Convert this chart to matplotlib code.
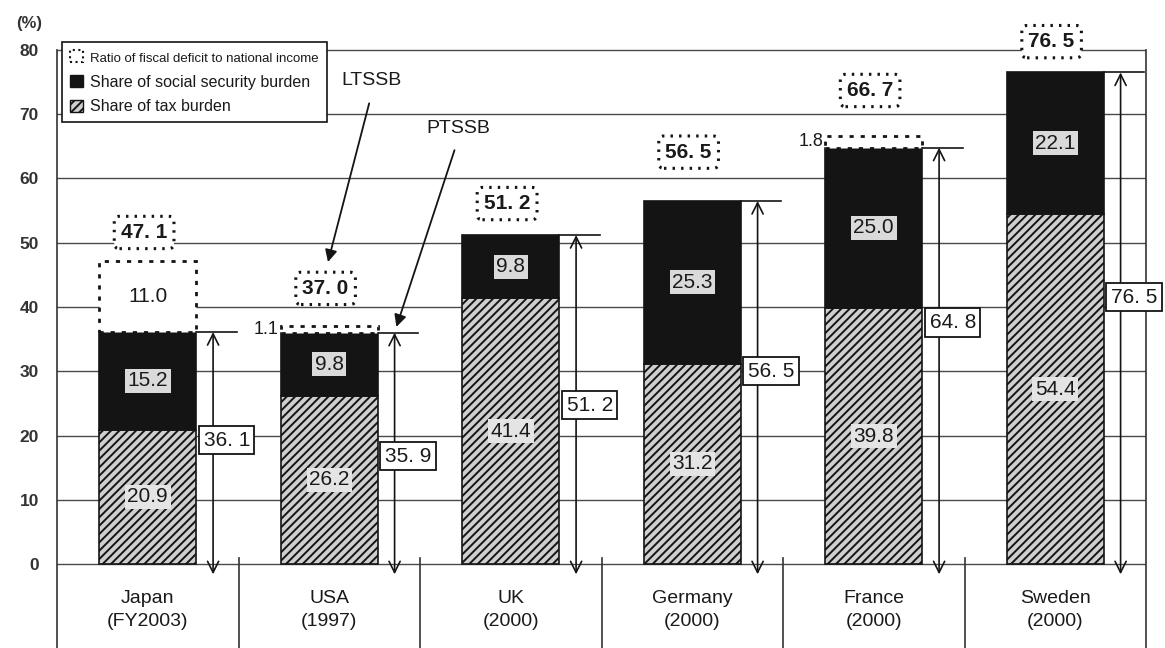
import matplotlib
matplotlib.use("Agg")
import matplotlib.pyplot as plt
from matplotlib.patches import Patch
import numpy as np

plt.rcParams['font.family'] = ['Liberation Sans', 'DejaVu Sans']
plt.rcParams['hatch.linewidth'] = 1.4

# data
countries = ["Japan\n(FY2003)", "USA\n(1997)", "UK\n(2000)",
             "Germany\n(2000)", "France\n(2000)", "Sweden\n(2000)"]
tax_share = [20.9, 26.2, 41.4, 31.2, 39.8, 54.4]
social_share = [15.2, 9.8, 9.8, 25.3, 25.0, 22.1]
deficit_ratio = [11.0, 1.1, 0.0, 0.0, 1.8, 0.0]
ptssb_labels = ["36. 1", "35. 9", "51. 2", "56. 5", "64. 8", "76. 5"]
ltssb_labels = ["47. 1", "37. 0", "51. 2", "56. 5", "66. 7", "76. 5"]

# where the boxed totals sit (y in %)
ptssb_box_y = [19.3, 16.8, 24.7, 30.0, 37.6, 41.5]
ltssb_box_y = [51.6, 42.9, 56.1, 64.1, 73.7, 81.3]

tax = np.array(tax_share)
soc = np.array(social_share)
dfc = np.array(deficit_ratio)
ptssb = tax + soc
x = np.arange(len(countries))
bw = 0.535
ink = '#141414'
txt = '#1a1a1a'

fig = plt.figure(figsize=(11.65, 6.48), dpi=100)
ax = fig.add_axes([57 / 1165, 0, 1089 / 1165, 1])
ax.set_xlim(-0.5, 5.5)
ax.set_ylim(-13.07, 87.78)
for s in ax.spines.values():
    s.set_visible(False)

ax.set_yticks(range(0, 81, 10))
ax.tick_params(axis='y', length=0, pad=13, labelsize=12.5, labelcolor='#333')
for t in ax.get_yticklabels():
    t.set_fontweight('bold')
ax.set_xticks([])
ax.grid(axis='y', color='#4a4a4a', lw=1.0)
ax.set_axisbelow(True)

# frame + table below the axis
ax.plot([-0.5, -0.5], [-13.1, 80], color='#333', lw=1.2, clip_on=False)
ax.plot([5.5, 5.5], [-13.1, 80], color='#333', lw=1.2, clip_on=False)
for k in range(1, len(countries)):
    ax.plot([k - 0.5, k - 0.5], [-13.1, 1.0], color='#333', lw=1.2)
for i, name in enumerate(countries):
    ax.text(i, -7.2, name, ha='center', va='center', fontsize=14,
            linespacing=1.45, color=txt)

# stacked bars
ax.bar(x, tax, bw, color='#cfcfcf', edgecolor=ink, hatch='////', lw=1.2, zorder=2)
ax.bar(x, soc, bw, bottom=tax, color=ink, edgecolor=ink, lw=1.2, zorder=2)
has_def = dfc > 0
ax.bar(x[has_def], dfc[has_def], bw, bottom=ptssb[has_def], color='white',
       edgecolor=ink, linestyle=(0, (1.5, 2.5)), lw=2, zorder=2)

for i in x:
    ax.text(i, tax[i] / 2, f"{tax[i]:.1f}", ha='center', va='center', fontsize=15,
            color=txt, zorder=4,
            bbox=dict(boxstyle='square,pad=0.12', fc='#e4e4e4', ec='none'))
    ax.text(i, tax[i] + soc[i] / 2, f"{soc[i]:.1f}", ha='center', va='center',
            fontsize=15, color=txt, zorder=4,
            bbox=dict(boxstyle='square,pad=0.12', fc='#dadada', ec='none'))
    if dfc[i] > 5:
        ax.text(i, ptssb[i] + dfc[i] / 2, f"{dfc[i]:.1f}", ha='center', va='center',
                fontsize=15, color=txt, zorder=4)
    elif dfc[i] > 0:
        ax.text(i - bw / 2 - 0.01, ptssb[i] + dfc[i] / 2, f"{dfc[i]:.1f}",
                ha='right', va='center', fontsize=13, color=txt, zorder=4)

    # double arrow for the present total
    ax_x = i + 0.36
    ax.annotate('', xy=(ax_x, ptssb[i]), xytext=(ax_x, -1.6),
                arrowprops=dict(arrowstyle='<->', lw=1.2, color=ink,
                                mutation_scale=20, shrinkA=0, shrinkB=0), zorder=3)
    ax.plot([i + bw / 2, i + 0.49], [ptssb[i]] * 2, color=ink, lw=1.2, zorder=3)
    ax.text(i + 0.435, ptssb_box_y[i], ptssb_labels[i], ha='center', va='center',
            fontsize=15, color=txt, zorder=5,
            bbox=dict(boxstyle='square,pad=0.22', fc='white', ec=ink, lw=1.3))

    # dotted box with the long-term total
    ax.text(i - 0.02, ltssb_box_y[i], ltssb_labels[i], ha='center', va='center',
            fontsize=15, color=txt, fontweight='bold', zorder=5,
            bbox=dict(boxstyle='round,pad=0.32,rounding_size=0.25', fc='white',
                      ec=ink, lw=2.2, ls=(0, (0.8, 2.0))))

# LTSSB / PTSSB call-outs
ax.text(1.235, 75.3, 'LTSSB', ha='center', va='center', fontsize=14, color=txt)
ax.annotate('', xy=(0.993, 47.0), xytext=(1.22, 71.7),
            arrowprops=dict(arrowstyle='-|>', color=ink, lw=1.3,
                            mutation_scale=18, shrinkA=0, shrinkB=0))
ax.text(1.71, 67.8, 'PTSSB', ha='center', va='center', fontsize=14, color=txt)
ax.annotate('', xy=(1.37, 36.9), xytext=(1.69, 64.4),
            arrowprops=dict(arrowstyle='-|>', color=ink, lw=1.3,
                            mutation_scale=18, shrinkA=0, shrinkB=0))

ax.text(-0.655, 84.2, '(%)', ha='center', va='center', fontsize=12,
        fontweight='bold', color='#333')

handles = [Patch(fc='white', ec=ink, ls=':', lw=1.5),
           Patch(fc=ink, ec=ink),
           Patch(fc='#cfcfcf', ec=ink, hatch='////')]
labels = ['Ratio of fiscal deficit to national income',
          'Share of social security burden',
          'Share of tax burden']
leg = ax.legend(handles, labels, loc='upper left',
                bbox_to_anchor=(62 / 1165, 1 - 42 / 648), bbox_transform=fig.transFigure,
                borderaxespad=0, frameon=True, fancybox=False, edgecolor=ink,
                framealpha=1, handlelength=0.8, handleheight=0.8, handletextpad=0.45,
                borderpad=0.5, labelspacing=0.62, fontsize=11.5)
leg.get_frame().set_linewidth(1.2)
leg.set_zorder(6)
leg.get_texts()[0].set_fontsize(9.5)
for t in leg.get_texts():
    t.set_color(txt)

fig.savefig('out.png', dpi=100)
